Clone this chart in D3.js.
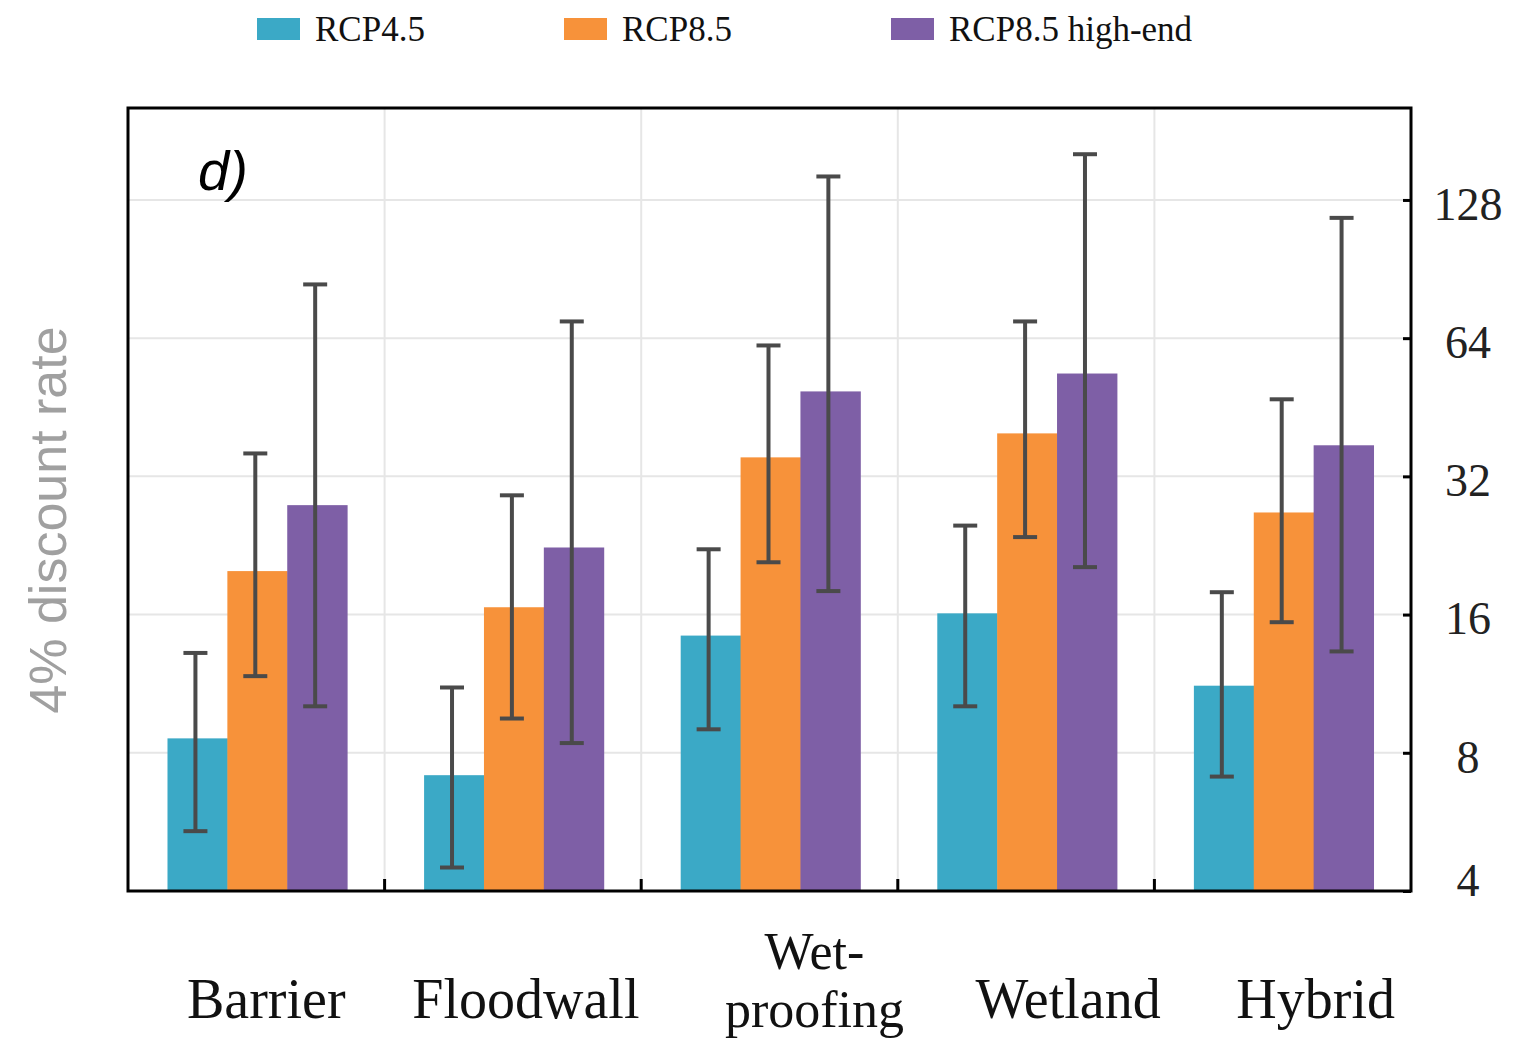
<!DOCTYPE html>
<html>
<head>
<meta charset="utf-8">
<script src="https://cdn.jsdelivr.net/npm/d3@7"></script>
<style>
    body { margin: 0; background: #fff; }
    svg { display: block; }
</style>
</head>
<body>
<div id="chart"></div>
<script>

// categories and series
let categories = ['Barrier', 'Floodwall', 'Wet-proofing', 'Wetland', 'Hybrid'];
let seriesNames = ['RCP4.5', 'RCP8.5', 'RCP8.5 high-end'];

// bar heights
let rcp45 = [8.6, 7.15, 14.4, 16.1, 11.2];
let rcp85 = [19.9, 16.6, 35.2, 39.7, 26.7];
let rcp85High = [27.7, 22.4, 49.0, 53.6, 37.4];

// error bar bounds
let rcp45Low = [5.4, 4.5, 9.0, 10.1, 7.1];
let rcp45High = [13.2, 11.1, 22.2, 25.0, 17.9];
let rcp85Low = [11.75, 9.5, 20.8, 23.6, 15.4];
let rcp85HighBound = [35.9, 29.1, 61.7, 69.6, 47.1];
let rcp85hLow = [10.1, 8.4, 18.0, 20.3, 13.3];
let rcp85hHigh = [83.8, 69.6, 144, 161, 117];

let yTicks = [4, 8, 16, 32, 64, 128];

let colors = ['#3ba9c6', '#f7923a', '#7e5fa6'];

// label nudges (the source figure sets them off-center)
let labelShift = [10, 13, 45, 42, 33];

let width = 1521, height = 1042;
let margin = {top: 108, right: 110, bottom: 151, left: 128};
let w = width - margin.left - margin.right;
let h = height - margin.top - margin.bottom;

let svg = d3.select('#chart').append('svg')
    .attr('width', width)
    .attr('height', height);

let g = svg.append('g')
    .attr('transform', `translate(${margin.left}, ${margin.top})`);

let x0 = d3.scaleBand()
    .domain(categories)
    .range([0, w])
    .paddingInner(0.3)
    .paddingOuter(0.15);

let x1 = d3.scaleBand()
    .domain(seriesNames)
    .range([0, x0.bandwidth()]);

let y = d3.scaleLog()
    .base(2)
    .domain([4, 203])
    .range([h, 0]);

// gridlines
g.selectAll('.hgrid').data(yTicks.filter(d => d > 4))
    .enter().append('line')
    .attr('class', 'hgrid')
    .attr('x1', 0).attr('x2', w)
    .attr('y1', d => y(d)).attr('y2', d => y(d))
    .attr('stroke', '#e6e6e6')
    .attr('stroke-width', 2);

let boundaries = categories.slice(1).map(c => x0(c) - x0.step() * x0.paddingInner() / 2);

g.selectAll('.vgrid').data(boundaries)
    .enter().append('line')
    .attr('class', 'vgrid')
    .attr('x1', d => d).attr('x2', d => d)
    .attr('y1', 0).attr('y2', h)
    .attr('stroke', '#e6e6e6')
    .attr('stroke-width', 2);

// build rows
let series = [
    {name: seriesNames[0], values: rcp45, lo: rcp45Low, hi: rcp45High},
    {name: seriesNames[1], values: rcp85, lo: rcp85Low, hi: rcp85HighBound},
    {name: seriesNames[2], values: rcp85High, lo: rcp85hLow, hi: rcp85hHigh}
];

let rows = [];
categories.forEach((c, i) => {
    series.forEach((s, j) => {
        rows.push({cat: c, series: s.name, color: colors[j], value: s.values[i], lo: s.lo[i], hi: s.hi[i]});
    });
});

// bars
g.selectAll('.bar').data(rows)
    .enter().append('rect')
    .attr('class', 'bar')
    .attr('x', d => x0(d.cat) + x1(d.series) + 1)
    .attr('width', x1.bandwidth() + 0.5)
    .attr('y', d => y(d.value))
    .attr('height', d => h - y(d.value))
    .attr('fill', d => d.color);

// error bars
let capW = 24;
let errs = g.selectAll('.err').data(rows)
    .enter().append('g')
    .attr('class', 'err')
    .attr('transform', d => `translate(${x0(d.cat) + x1(d.series) + x1.bandwidth() / 2 - 1}, 0)`)
    .attr('stroke', '#4a4a4a')
    .attr('stroke-width', 4);

errs.append('line')
    .attr('x1', 0).attr('x2', 0)
    .attr('y1', d => y(d.lo)).attr('y2', d => y(d.hi));
errs.append('line')
    .attr('x1', -capW / 2).attr('x2', capW / 2)
    .attr('y1', d => y(d.hi)).attr('y2', d => y(d.hi));
errs.append('line')
    .attr('x1', -capW / 2).attr('x2', capW / 2)
    .attr('y1', d => y(d.lo)).attr('y2', d => y(d.lo));

// frame
g.append('rect')
    .attr('width', w).attr('height', h)
    .attr('fill', 'none')
    .attr('stroke', '#000')
    .attr('stroke-width', 3);

// bottom ticks at group boundaries (pointing up)
g.selectAll('.btick').data(boundaries)
    .enter().append('line')
    .attr('x1', d => d).attr('x2', d => d)
    .attr('y1', h).attr('y2', h - 12)
    .attr('stroke', '#000')
    .attr('stroke-width', 3);

// right axis
let yAxis = d3.axisRight(y)
    .tickValues(yTicks)
    .tickSize(0)
    .tickFormat(d3.format('d'));

let yAxisG = g.append('g')
    .attr('transform', `translate(${w}, 0)`)
    .call(yAxis);

yAxisG.select('.domain').remove();
yAxisG.selectAll('.tick line').remove();
yAxisG.selectAll('.tick').append('line')
    .attr('x1', -8).attr('x2', 0)
    .attr('stroke', '#000')
    .attr('stroke-width', 3);
yAxisG.selectAll('.tick text')
    .attr('x', 57)
    .attr('dy', d => d === 4 ? '0.1em' : '0.42em')
    .attr('text-anchor', 'middle')
    .attr('fill', '#222')
    .style('font-family', '"Liberation Serif", "Times New Roman", serif')
    .style('font-size', '46px');

// category labels
let labelFont = '"Liberation Serif", "Times New Roman", serif';
categories.forEach((c, i) => {
    let cx = x0(c) + x0.bandwidth() / 2 + labelShift[i];
    let t = g.append('text')
        .attr('text-anchor', 'middle')
        .attr('fill', '#111')
        .style('font-family', labelFont)
        .style('font-size', '56px');
    if (c === 'Wet-proofing') {
        t.style('font-size', '52px');
        t.append('tspan').attr('x', cx).attr('y', h + 78).text('Wet-');
        t.append('tspan').attr('x', cx).attr('y', h + 136).text('proofing');
    } else {
        t.attr('x', cx).attr('y', h + 127).text(c);
    }
});

// panel letter
g.append('text')
    .attr('x', 70)
    .attr('y', 82)
    .style('font-family', '"Liberation Sans", Arial, sans-serif')
    .style('font-style', 'italic')
    .style('font-size', '56px')
    .attr('fill', '#000')
    .text('d)');

// y title
svg.append('text')
    .attr('transform', `translate(66, 520) rotate(-90)`)
    .attr('text-anchor', 'middle')
    .attr('fill', '#a0a0a0')
    .style('font-family', '"Liberation Sans", Arial, sans-serif')
    .style('font-size', '52px')
    .text('4% discount rate');

// legend
let legendX = [257, 564, 891];
let legend = svg.append('g').attr('class', 'legend');
seriesNames.forEach((s, i) => {
    legend.append('rect')
        .attr('x', legendX[i]).attr('y', 18)
        .attr('width', 43).attr('height', 22)
        .attr('fill', colors[i]);
    legend.append('text')
        .attr('x', legendX[i] + 58)
        .attr('y', 41)
        .attr('fill', '#111')
        .style('font-family', labelFont)
        .style('font-size', '35px')
        .text(s);
});

</script>
</body>
</html>
